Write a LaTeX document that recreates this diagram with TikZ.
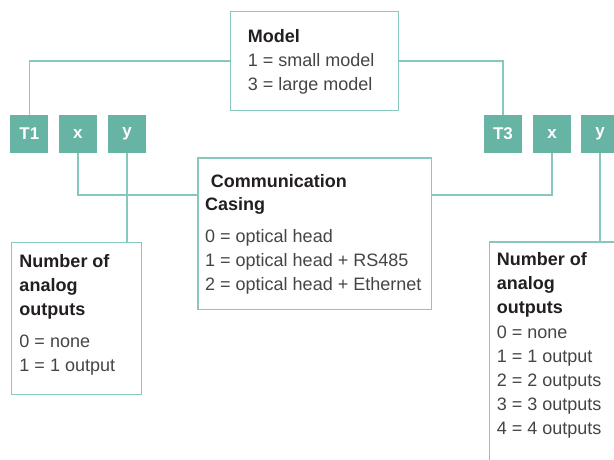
\documentclass[tikz,border=0pt]{standalone}
\usepackage{fontspec}
\setmainfont{Liberation Sans}
\definecolor{tealfill}{HTML}{67B3A4}
\definecolor{tealline}{HTML}{86C8BC}
\definecolor{headtxt}{HTML}{231F20}
\definecolor{bodytxt}{HTML}{454545}
\tikzset{
  codebox/.style={fill=tealfill, draw=none, minimum width=38pt, minimum height=38pt, inner sep=0pt,
    text=white, font=\fontsize{17}{17}\selectfont\bfseries},
  infobox/.style={draw=tealline, line width=1.4pt, anchor=north west, inner sep=0pt},
  link/.style={draw=tealline, line width=1.4pt},
  headline/.style={anchor=base west, inner sep=0pt, text=headtxt, font=\fontsize{18}{24}\selectfont\bfseries},
  bodyline/.style={anchor=base west, inner sep=0pt, text=bodytxt, font=\fontsize{18}{24}\selectfont},
}
\begin{document}
\begin{tikzpicture}[x=1pt,y=-1pt]
\clip (0,0) rectangle (614,459);
\fill[white] (0,0) rectangle (614,459);
% info boxes
\node[infobox, minimum width=168pt, minimum height=99.3pt] (model) at (230,10.7) {};
\node[infobox, minimum width=233.4pt, minimum height=151.7pt] (comm) at (197.3,157.3) {};
\node[infobox, minimum width=130pt, minimum height=152.3pt] (numL) at (10.7,241.7) {};
\node[infobox, minimum width=140pt, minimum height=240pt] (numR) at (488.7,241.3) {};
% code boxes
\node[codebox] (t1) at (29.3,133.8) {T1};
\node[codebox] (xa) at (77.8,133.8) {x};
\node[codebox] (ya) at (127,133.8) {y};
\node[codebox] (t3) at (503,133.8) {T3};
\node[codebox] (xb) at (552,133.8) {x};
\node[codebox] (yb) at (600,133.8) {y};
% connectors
\coordinate (hl) at (0,195);
\draw[link] (model.west) -| (t1.north);
\draw[link] (model.east) -| (t3.north);
\draw[link] (xa.south) |- (comm.west |- hl);
\draw[link] (xb.south) |- (comm.east |- hl);
\draw[link] (ya.south) -- (ya.south |- numL.north);
\draw[link] (yb.south) -- (yb.south |- numR.north);
% model text
\node[headline] (m0) at (247.7,42.1) {Model};
\node[bodyline] (m1) at (247.7,66.3) {1 = small model};
\node[bodyline] (m2) at (247.7,90.4) {3 = large model};
% communication text
\node[headline] (c0) at (210.7,187.2) {Communication};
\node[headline] (c1) at (205,210.8) {Casing};
\node[bodyline] (c2) at (205,242.5) {0 = optical head};
\node[bodyline] (c3) at (205,266.5) {1 = optical head + RS485};
\node[bodyline] (c4) at (205,290.5) {2 = optical head + Ethernet};
% left number text
\node[headline] (l0) at (19.3,267.2) {Number of};
\node[headline] (l1) at (19.3,291.1) {analog};
\node[headline] (l2) at (19.3,315) {outputs};
\node[bodyline] (l3) at (19.3,347.5) {0 = none};
\node[bodyline] (l4) at (19.3,371.5) {1 = 1 output};
% right number text
\node[headline] (r0) at (496.7,265.5) {Number of};
\node[headline] (r1) at (496.7,289.5) {analog};
\node[headline] (r2) at (496.7,313.4) {outputs};
\node[bodyline] (r3) at (496.7,338.2) {0 = none};
\node[bodyline] (r4) at (496.7,362.2) {1 = 1 output};
\node[bodyline] (r5) at (496.7,386.1) {2 = 2 outputs};
\node[bodyline] (r6) at (496.7,410) {3 = 3 outputs};
\node[bodyline] (r7) at (496.7,434) {4 = 4 outputs};
\end{tikzpicture}
\end{document}
